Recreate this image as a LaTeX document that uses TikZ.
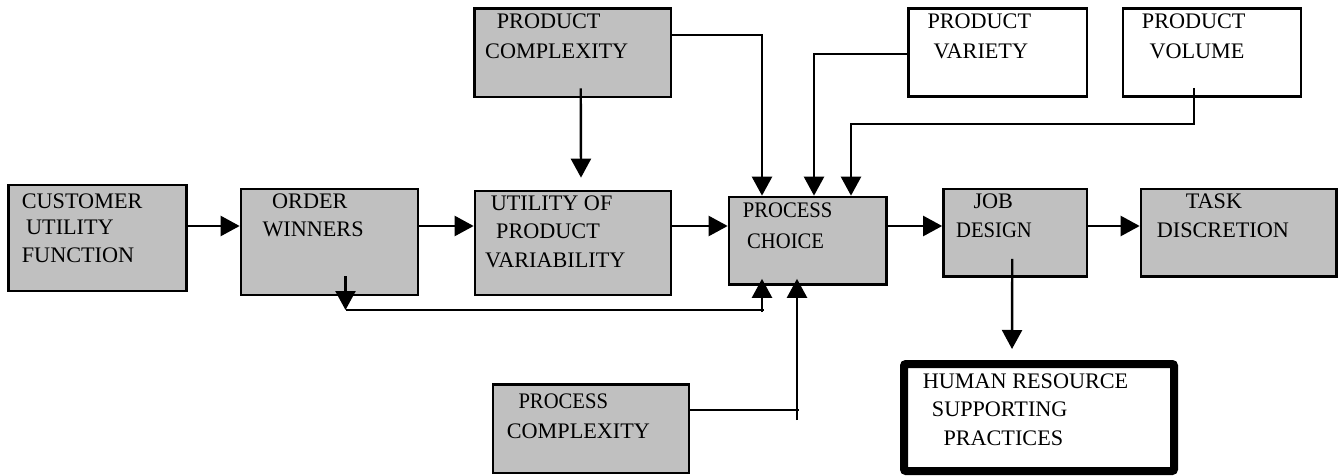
\documentclass[tikz,border=0pt]{standalone}
\usepackage{fontspec}
\setmainfont{Liberation Serif}
\usetikzlibrary{arrows.meta,calc}
\definecolor{boxgray}{HTML}{C0C0C0}
\newcommand{\sqz}[1]{\scalebox{0.93}[1]{#1}}
\tikzset{
  gbox/.style={draw, line width=2.7pt, fill=boxgray, inner sep=0pt},
  wbox/.style={draw, line width=2.7pt, fill=white, inner sep=0pt},
  lbl/.style={anchor=base west, inner sep=0pt, font=\fontsize{22.2}{26}\selectfont},
  conn/.style={line width=2.4pt},
  arr/.style={conn, -{Triangle[length=19pt,width=20pt]}},
}
\begin{document}
\begin{tikzpicture}[x=1pt,y=-1pt]
\useasboundingbox[fill=white] (0,0) rectangle (1341,476);

% boxes
\node[gbox, minimum width=178pt, minimum height=106pt] (cuf) at (97.5,238) {};
\node[gbox, minimum width=177pt, minimum height=106pt] (ow) at (329.5,242) {};
\node[gbox, minimum width=196pt, minimum height=104pt] (upv) at (573,243) {};
\node[gbox, minimum width=157.5pt, minimum height=87.5pt] (pc) at (807.75,240.75) {};
\node[gbox, minimum width=143.5pt, minimum height=87.5pt] (jd) at (1015.25,232.75) {};
\node[gbox, minimum width=195.5pt, minimum height=87.5pt] (td) at (1238.75,232.75) {};
\node[gbox, minimum width=196.5pt, minimum height=88.5pt] (pcomp) at (572.75,52.75) {};
\node[wbox, minimum width=178.5pt, minimum height=88pt] (pvar) at (997.75,52.5) {};
\node[wbox, minimum width=178pt, minimum height=88pt] (pvol) at (1212,52.5) {};
\node[gbox, minimum width=196pt, minimum height=88.5pt] (pcx) at (591,428.75) {};
\node[draw, line width=8pt, rounded corners=2pt, fill=white, inner sep=0pt,
      minimum width=270pt, minimum height=107pt] (hr) at (1039,417.5) {};

% texts
\node[lbl] (cufa) at (21.7,208) {CUSTOMER};
\node[lbl] (cufb) at (26,234) {UTILITY};
\node[lbl] (cufc) at (21.7,262) {FUNCTION};
\node[lbl] (owa) at (272,208) {ORDER};
\node[lbl] (owb) at (262.3,236.7) {WINNERS};
\node[lbl] (upva) at (490.7,210.7) {UTILITY OF};
\node[lbl] (upvb) at (496,238.5) {PRODUCT};
\node[lbl] (upvc) at (485,267) {VARIABILITY};
\node[lbl] (pca) at (742.7,217.7) {\sqz{PROCESS}};
\node[lbl] (pcb) at (747,248.3) {\sqz{CHOICE}};
\node[lbl] (jda) at (973.3,208) {JOB};
\node[lbl] (jdb) at (956,237) {\sqz{DESIGN}};
\node[lbl] (tda) at (1185.7,208.3) {TASK};
\node[lbl] (tdb) at (1156.7,237.7) {DISCRETION};
\node[lbl] (pcompa) at (496.7,28.3) {PRODUCT};
\node[lbl] (pcompb) at (485,59) {COMPLEXITY};
\node[lbl] (pvara) at (927.3,28.3) {PRODUCT};
\node[lbl] (pvarb) at (933.3,58.3) {VARIETY};
\node[lbl] (pvola) at (1141.7,28.3) {PRODUCT};
\node[lbl] (pvolb) at (1149.3,58.3) {VOLUME};
\node[lbl] (pcxa) at (518.3,408.3) {\sqz{PROCESS}};
\node[lbl] (pcxb) at (506.7,438.3) {COMPLEXITY};
\node[lbl] (hra) at (922.7,388.3) {HUMAN RESOURCE};
\node[lbl] (hrb) at (931.7,416.7) {SUPPORTING};
\node[lbl] (hrc) at (943.3,445) {PRACTICES};

% main row
\coordinate (row) at (0,226);
\draw[arr] (cuf.east |- row) -- (ow.west |- row);
\draw[arr] (ow.east |- row) -- (upv.west |- row);
\draw[arr] (upv.east |- row) -- (pc.west |- row);
\draw[arr] (pc.east |- row) -- (jd.west |- row);
\draw[arr] (jd.east |- row) -- (td.west |- row);

% product complexity -> utility of product variability
\draw[arr] ($(pcomp.south)+(8,-10)$) -- ($(upv.north)+(8,-12)$);

% inputs to process choice from above
\coordinate (l1) at (762,35);
\draw[arr] (pcomp.east |- l1) -| (pc.north -| l1);
\coordinate (l2) at (814,54);
\draw[arr] (pvar.west |- l2) -| (pc.north -| l2);
\coordinate (l3) at (851,124);
\draw[arr] ($(pvol.south)+(-18,-10)$) |- (l3) -- (pc.north -| l3);

% feedback from order winners
\coordinate (fbl) at (345.5,310);
\coordinate (fbr) at (762,310);
\draw[arr] ($(fbl)+(0,-34)$) -- (fbl);
\draw[conn] (fbl) -- ($(fbr)+(1.5,0)$);
\draw[arr] ($(fbr)+(0,2)$) -- ($(pc.south -| fbr)+(0,-7)$);

% process complexity
\coordinate (l5) at (797,410);
\draw[conn] (pcx.east |- l5) -- ($(l5)+(2,0)$);
\draw[arr] ($(l5)+(0,10)$) -- ($(pc.south -| l5)+(0,-7)$);

% job design -> HR
\draw[arr] ($(jd.south)+(-3,-19)$) -- ($(hr.north)+(-27,-11)$);
\end{tikzpicture}
\end{document}
